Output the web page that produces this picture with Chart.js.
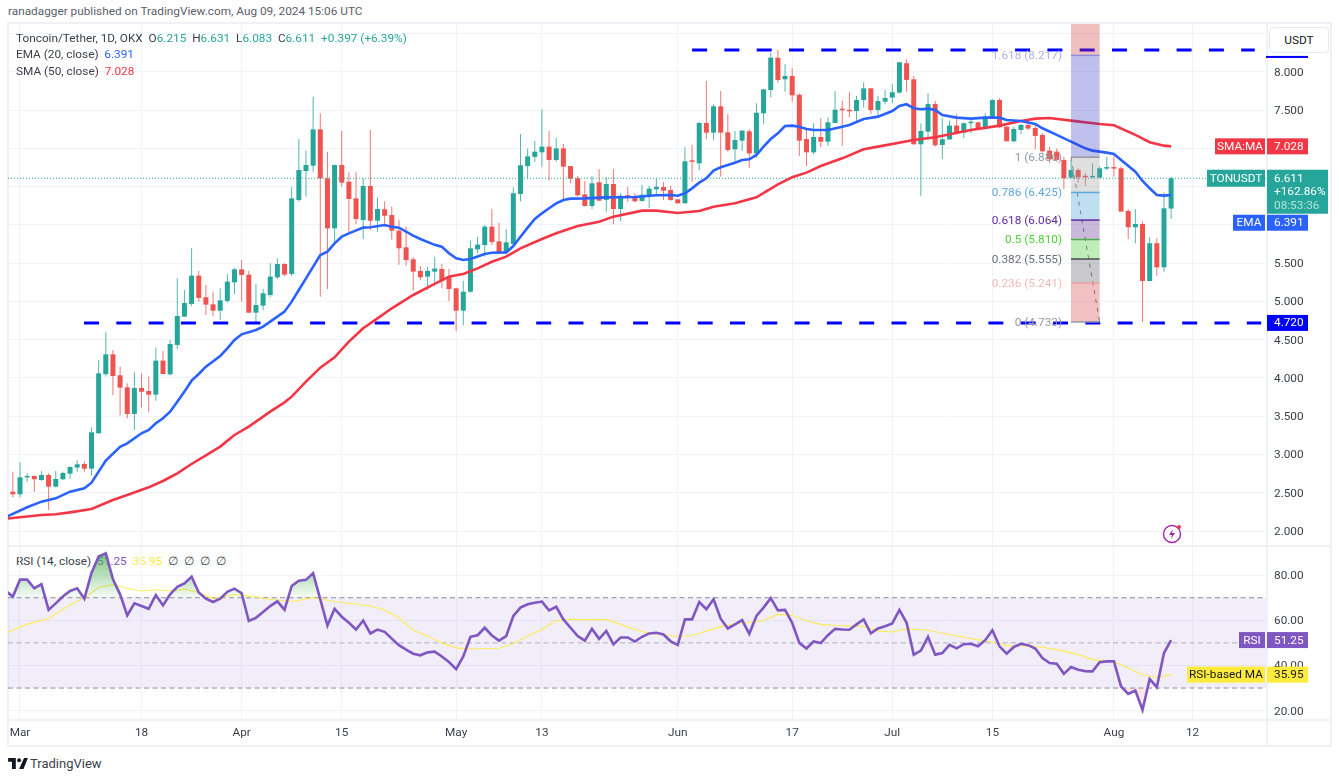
<!DOCTYPE html>
<html>
<head>
<meta charset="utf-8">
<title>TONUSDT</title>
<script src="https://cdn.jsdelivr.net/npm/chart.js@4"></script>
<style>
    body { margin: 0; background: #fff; font-family: Roboto, sans-serif; font-size: 11.8px; color: #131722; }
    #page { position: relative; width: 1339px; height: 777px; overflow: hidden; }
    #page > * { position: absolute; }
    .rule { background: #eff1f6; }
    .row { left: 16px; white-space: pre; color: #3c3f4a; line-height: 14px; z-index: 3; }
    .up { color: #26a69a; }
    canvas { z-index: 2; }
</style>
</head>
<body>
<div id="page">
    <div style="left:8px;top:4px;color:#5d606b;">ranadagger published on TradingView.com, Aug 09, 2024 15:06 UTC</div>

    <div class="rule" style="left:7px;top:22px;width:1325px;height:2px;"></div>
    <div class="rule" style="left:7px;top:22px;width:2px;height:725px;"></div>
    <div class="rule" style="left:1330px;top:22px;width:2px;height:725px;"></div>
    <div class="rule" style="left:7px;top:745px;width:1325px;height:2px;"></div>
    <div class="rule" style="left:7px;top:545px;width:1325px;height:2px;"></div>
    <div class="rule" style="left:7px;top:719px;width:1325px;height:2px;"></div>
    <div class="rule" style="left:1266px;top:22px;width:2px;height:725px;"></div>

    <canvas id="priceChart" width="1323" height="522" style="left:8px;top:24px;"></canvas>
    <canvas id="rsiChart" width="1323" height="200" style="left:8px;top:546px;"></canvas>

    <div class="row" style="top:31px;">Toncoin/Tether, 1D, OKX  O<span class="up">6.215</span>  H<span class="up">6.631</span>  L<span class="up">6.083</span>  C<span class="up">6.611</span>  <span class="up">+0.397 (+6.39%)</span></div>
    <div class="row" style="top:47px;">EMA (20, close)  <span style="color:#2962ff">6.391</span></div>
    <div class="row" style="top:64px;">SMA (50, close)  <span style="color:#f23645">7.028</span></div>
    <div class="row" style="top:554px;z-index:1;">RSI (14, close)  <span style="color:#7e57c2">51.25</span>  <span style="color:#ffeb3b">35.95</span>  ∅  ∅  ∅  ∅</div>

    <div style="left:1269px;top:27px;width:58px;height:24px;line-height:24px;text-align:center;border:1px solid #e6e8ef;border-radius:4px;background:#fff;z-index:4;">USDT</div>

    <svg style="left:1162px;top:524px;z-index:3;" width="22" height="20" viewBox="0 0 22 20">
        <circle cx="10" cy="10" r="8.5" fill="none" stroke="#9c27b0" stroke-width="1.4"/>
        <path d="M11 5 L7 11 L10 11 L9 15 L13 9 L10 9 Z" fill="#9c27b0"/>
        <circle cx="17" cy="3" r="2" fill="#f23645"/>
    </svg>

    <svg style="left:8px;top:758px;" width="20" height="11" viewBox="0 0 36 20">
        <path d="M0 0 H14 V20 H7 V7 H0 Z M29 0 H36 L28 20 H20 Z" fill="#131722"/>
        <circle cx="20" cy="4" r="3.6" fill="#131722"/>
    </svg>
    <div style="left:30px;top:756px;font-size:13px;color:#3c3f4a;">TradingView</div>
</div>

<script>
// first candle is Feb 29, x axis counts days from Mar 1
const firstDay = -1;

const opens = [
    2.514, 2.48, 2.7, 2.72, 2.667, 2.732, 2.58, 2.676, 2.75, 2.83,
    2.876, 2.815, 3.277, 4.05, 4.31, 4.035, 3.878, 3.53, 3.87, 3.83,
    3.782, 4.227, 4.048, 4.432, 4.802, 4.968, 5.338, 5.055, 4.963, 4.88,
    5.007, 5.25, 5.42, 5.35, 4.854, 4.946, 5.085, 5.316, 5.49, 5.36,
    6.327, 6.705, 6.775, 7.25, 6.61, 5.956, 6.784, 6.566, 6.348, 6.065,
    6.51, 6.056, 6.205, 6.13, 5.926, 5.708, 5.551, 5.4, 5.325, 5.39,
    5.425, 5.316, 5.172, 4.88, 5.128, 5.682, 5.738, 5.978, 5.786, 5.647,
    5.751, 6.405, 6.77, 6.89, 6.95, 7.024, 6.85, 7.002, 6.77, 6.61,
    6.4, 6.248, 6.558, 6.327, 6.536, 6.209, 6.385, 6.379, 6.314, 6.388,
    6.466, 6.496, 6.457, 6.335, 6.283, 6.84, 6.806, 7.333, 7.207, 7.551,
    7.211, 6.989, 7.102, 7.224, 6.936, 7.46, 7.764, 8.187, 7.904, 7.947,
    7.703, 7.124, 6.95, 7.15, 7.089, 7.333, 7.512, 7.503, 7.49, 7.634,
    7.786, 7.503, 7.612, 7.665, 7.73, 8.114, 7.904, 7.055, 7.22, 7.582,
    7.046, 7.12, 7.299, 7.207, 7.33, 7.342, 7.264, 7.394, 7.634, 7.286,
    7.094, 7.242, 7.307, 7.268, 7.177, 6.972, 6.959, 6.85, 6.619, 6.719,
    6.641, 6.623, 6.619, 6.737, 6.754, 6.741, 6.183, 5.97, 6.013, 5.268,
    5.761, 5.447, 6.215
];
const highs = [
    2.776, 2.898, 2.754, 2.72, 2.785, 2.754, 2.785, 2.776, 2.845, 2.924,
    2.907, 3.355, 4.235, 4.597, 4.366, 4.148, 3.93, 4.074, 4.06, 4.018,
    4.4, 4.353, 4.497, 5.303, 5.15, 5.695, 5.4, 5.216, 5.129, 5.172,
    5.36, 5.44, 5.542, 5.4, 5.229, 5.164, 5.5, 5.564, 5.5, 6.5,
    7.12, 6.972, 7.677, 7.46, 6.958, 6.79, 7.229, 6.69, 6.69, 6.61,
    7.24, 6.36, 6.309, 6.24, 6.065, 5.98, 5.58, 5.464, 5.455, 5.586,
    5.49, 5.425, 5.18, 5.272, 5.795, 5.847, 6.0, 6.209, 6.03, 5.943,
    6.492, 7.19, 7.0, 7.102, 7.512, 7.228, 7.137, 7.06, 6.77, 6.64,
    6.575, 6.64, 6.727, 6.623, 6.727, 6.414, 6.5, 6.414, 6.522, 6.51,
    6.61, 6.558, 6.514, 6.335, 7.015, 7.045, 7.35, 7.882, 7.577, 7.751,
    7.451, 7.228, 7.242, 7.25, 7.59, 7.773, 8.252, 8.287, 8.1, 8.048,
    7.72, 7.25, 7.329, 7.394, 7.407, 7.751, 7.625, 7.743, 7.686, 7.865,
    7.786, 7.686, 7.764, 7.843, 8.13, 8.166, 7.952, 7.33, 7.721, 7.621,
    7.395, 7.364, 7.447, 7.34, 7.395, 7.35, 7.46, 7.643, 7.656, 7.286,
    7.286, 7.32, 7.373, 7.33, 7.2, 7.024, 7.0, 6.893, 6.85, 6.741,
    6.676, 6.806, 6.763, 6.893, 6.893, 6.763, 6.209, 6.209, 6.044, 5.839,
    5.826, 6.423, 6.631
];
const lows = [
    2.44, 2.44, 2.645, 2.514, 2.658, 2.275, 2.57, 2.667, 2.68, 2.776,
    2.776, 2.724, 3.277, 4.018, 3.778, 3.512, 3.473, 3.32, 3.617, 3.551,
    3.704, 4.048, 4.035, 4.379, 4.802, 4.941, 4.998, 4.824, 4.81, 4.758,
    4.985, 5.098, 4.998, 4.85, 4.724, 4.889, 5.055, 5.294, 5.33, 5.33,
    6.305, 6.37, 6.697, 5.063, 5.164, 5.74, 6.5, 5.91, 6.013, 5.812,
    5.935, 5.913, 5.98, 5.81, 5.48, 5.468, 5.142, 5.281, 5.15, 5.216,
    5.172, 5.006, 4.614, 4.688, 5.115, 5.63, 5.586, 5.738, 5.63, 5.62,
    5.725, 6.31, 6.61, 6.828, 6.762, 6.58, 6.828, 6.335, 6.544, 6.37,
    6.24, 6.21, 6.318, 6.17, 6.008, 6.052, 6.296, 6.296, 6.305, 6.218,
    6.405, 6.327, 6.318, 6.283, 6.283, 6.566, 6.72, 7.12, 7.11, 6.632,
    6.958, 6.828, 6.971, 6.749, 6.88, 7.316, 7.669, 7.865, 7.742, 7.612,
    6.902, 6.77, 6.923, 7.015, 7.037, 7.329, 7.037, 7.407, 7.364, 7.533,
    7.451, 7.438, 7.577, 7.591, 7.72, 7.743, 7.046, 6.379, 7.11, 7.024,
    6.863, 7.11, 7.198, 7.133, 7.198, 7.24, 7.25, 7.386, 7.264, 7.09,
    7.08, 7.19, 7.242, 6.989, 6.946, 6.815, 6.828, 6.467, 6.61, 6.554,
    6.514, 6.61, 6.61, 6.719, 6.632, 6.175, 5.817, 5.761, 4.733, 5.26,
    5.338, 5.39, 6.083
];
const closes = [
    2.48, 2.702, 2.71, 2.676, 2.732, 2.58, 2.68, 2.758, 2.837, 2.872,
    2.815, 3.29, 4.06, 4.31, 4.026, 3.874, 3.53, 3.87, 3.82, 3.782,
    4.227, 4.052, 4.445, 4.811, 4.98, 5.338, 5.046, 4.959, 4.88, 5.015,
    5.26, 5.42, 5.347, 4.854, 4.954, 5.107, 5.325, 5.49, 5.351, 6.348,
    6.719, 6.784, 7.25, 6.61, 5.956, 6.784, 6.553, 6.34, 6.078, 6.51,
    6.056, 6.209, 6.12, 5.926, 5.695, 5.542, 5.39, 5.316, 5.4, 5.43,
    5.272, 5.163, 4.88, 5.128, 5.695, 5.743, 5.978, 5.777, 5.647, 5.773,
    6.414, 6.78, 6.897, 6.958, 7.024, 6.85, 7.002, 6.762, 6.605, 6.388,
    6.248, 6.544, 6.318, 6.536, 6.209, 6.383, 6.37, 6.309, 6.396, 6.475,
    6.5, 6.448, 6.327, 6.283, 6.832, 6.825, 7.333, 7.207, 7.551, 7.207,
    6.98, 7.111, 7.233, 6.936, 7.468, 7.773, 8.187, 7.895, 7.947, 7.695,
    7.102, 6.95, 7.15, 7.089, 7.342, 7.507, 7.5, 7.486, 7.634, 7.786,
    7.503, 7.621, 7.66, 7.735, 8.127, 7.896, 7.055, 7.229, 7.582, 7.042,
    7.12, 7.299, 7.207, 7.33, 7.35, 7.264, 7.416, 7.634, 7.277, 7.094,
    7.255, 7.307, 7.26, 7.164, 6.963, 6.859, 6.85, 6.61, 6.719, 6.623,
    6.623, 6.632, 6.741, 6.754, 6.737, 6.175, 5.97, 6.013, 5.268, 5.761,
    5.447, 6.218, 6.611
];

const emaDays = [-2, 1, 3, 5, 7, 9, 10, 12, 14, 15, 17, 18, 19, 20, 21, 22, 23, 24, 25, 26, 28, 29, 30, 31, 33, 34, 35, 37, 38, 39, 40, 42, 43, 44, 45, 46, 48, 49, 51, 52, 53, 55, 56, 58, 59, 60, 61, 62, 63, 65, 66, 68, 69, 70, 71, 72, 73, 74, 75, 76, 77, 79, 82, 86, 89, 91, 92, 93, 94, 95, 96, 97, 98, 99, 100, 101, 102, 103, 104, 105, 106, 107, 108, 109, 110, 111, 113, 115, 116, 118, 120, 122, 123, 124, 125, 126, 127, 128, 129, 131, 133, 135, 137, 138, 140, 142, 143, 145, 147, 149, 150, 152, 153, 154, 156, 157, 158, 159, 160, 161];
const emaValues = [2.18, 2.31, 2.384, 2.427, 2.514, 2.558, 2.632, 2.92, 3.1, 3.146, 3.277, 3.32, 3.408, 3.473, 3.56, 3.691, 3.822, 3.965, 4.052, 4.148, 4.288, 4.388, 4.497, 4.571, 4.628, 4.671, 4.737, 4.867, 4.998, 5.15, 5.303, 5.608, 5.651, 5.76, 5.847, 5.891, 5.965, 5.97, 6.0, 5.978, 5.965, 5.86, 5.817, 5.74, 5.716, 5.63, 5.564, 5.542, 5.555, 5.62, 5.638, 5.642, 5.725, 5.847, 5.965, 6.078, 6.152, 6.218, 6.283, 6.326, 6.344, 6.348, 6.361, 6.366, 6.388, 6.392, 6.383, 6.414, 6.479, 6.553, 6.61, 6.71, 6.754, 6.784, 6.814, 6.849, 6.858, 6.915, 7.024, 7.124, 7.198, 7.294, 7.298, 7.285, 7.255, 7.242, 7.242, 7.285, 7.307, 7.385, 7.416, 7.49, 7.556, 7.578, 7.525, 7.512, 7.521, 7.504, 7.438, 7.403, 7.39, 7.403, 7.403, 7.373, 7.36, 7.32, 7.264, 7.177, 7.09, 7.002, 6.972, 6.946, 6.928, 6.85, 6.697, 6.575, 6.48, 6.392, 6.384, 6.391];

const smaDays = [-2, 3, 5, 7, 10, 13, 15, 18, 20, 22, 24, 26, 28, 30, 32, 35, 37, 38, 40, 42, 44, 46, 48, 50, 52, 55, 58, 60, 61, 62, 64, 66, 68, 70, 73, 75, 78, 81, 83, 87, 89, 92, 95, 97, 100, 103, 106, 108, 110, 112, 115, 118, 120, 125, 128, 133, 137, 140, 142, 144, 147, 151, 153, 156, 158, 160, 161];
const smaValues = [2.16, 2.21, 2.218, 2.244, 2.288, 2.405, 2.471, 2.571, 2.654, 2.754, 2.876, 2.989, 3.103, 3.255, 3.364, 3.56, 3.682, 3.756, 3.952, 4.135, 4.27, 4.475, 4.65, 4.78, 4.911, 5.085, 5.229, 5.325, 5.342, 5.359, 5.433, 5.52, 5.586, 5.695, 5.817, 5.891, 5.987, 6.043, 6.109, 6.187, 6.187, 6.156, 6.183, 6.239, 6.283, 6.361, 6.531, 6.623, 6.684, 6.771, 6.871, 6.989, 7.024, 7.111, 7.146, 7.242, 7.299, 7.36, 7.39, 7.399, 7.364, 7.32, 7.303, 7.177, 7.081, 7.037, 7.028];

const rsiStartDay = -2;
const rsiValues = [
    73, 70.5, 78, 78, 74.2, 76, 64.6, 67.5, 70.5, 73,
    74.2, 69.6, 81, 88.3, 89.7, 78.2, 71.5, 62.2, 67.5, 66.3,
    65.1, 71.2, 66.6, 71.5, 74.8, 76.3, 79.3, 72.3, 69.6, 68.1,
    69.6, 72.6, 74, 72, 59.7, 61.1, 63.7, 66.3, 68.4, 64.6,
    75.2, 77.5, 77.9, 80.9, 69.3, 57.7, 65.1, 61.6, 58.9, 55.9,
    59.9, 54.2, 55.9, 54.9, 51.9, 49, 47, 45.2, 44.5, 45.8,
    46.1, 44, 41.5, 38.4, 44, 52.7, 53.4, 56.7, 53.3, 51,
    53, 61.9, 65.6, 67.1, 67.8, 68.3, 64.4, 66, 60.4, 56.7,
    53, 51, 56.2, 51.8, 55.3, 49.3, 52.4, 52.4, 50.6, 52.7,
    54.2, 54.5, 53.7, 50.7, 49.1, 60.4, 60.4, 68.1, 64.9, 69.3,
    60.7, 56.4, 58.2, 60.1, 54, 61.9, 65.6, 69.8, 64.4, 64.6,
    58.9, 50, 47.5, 50.6, 49.9, 53.4, 56.2, 55.9, 55.8, 58.2,
    60.4, 54.2, 56.4, 57.4, 58.6, 64.6, 58.9, 44.8, 46.6, 52.7,
    44.8, 45.5, 49.1, 47.6, 49.4, 49.6, 48.5, 51.2, 55.6, 48.5,
    45.2, 48.2, 49.6, 49, 47.5, 43.3, 41.1, 40.8, 36.3, 39.3,
    38.1, 37.5, 37.4, 41.4, 41.8, 41.8, 30.7, 27.4, 28.9, 20.3,
    34, 30.4, 45.5, 51.25
];
const rsiMaDays = [-2, 0, 2, 4, 6, 8, 9, 11, 13, 15, 17, 19, 21, 23, 25, 27, 30, 32, 35, 38, 41, 44, 47, 49, 51, 53, 55, 57, 59, 61, 63, 67, 69, 71, 73, 75, 77, 79, 82, 84, 86, 88, 90, 92, 94, 96, 98, 100, 102, 104, 106, 108, 110, 112, 114, 118, 120, 122, 124, 127, 130, 133, 136, 138, 142, 145, 148, 150, 153, 155, 157, 159, 161];
const rsiMaValues = [54.2, 57.1, 59.2, 60.7, 64.9, 68.4, 70, 74.5, 75.8, 74.1, 73, 73.5, 73, 73.8, 72.3, 69.6, 71.4, 70.8, 69.3, 68.3, 70, 68.3, 67.1, 66.3, 64.6, 61.1, 55.6, 53, 50, 47.8, 47.3, 47.6, 49.7, 53, 55.9, 59.9, 60.4, 60.2, 60.4, 58.2, 55.9, 54.2, 53.7, 52.7, 53.3, 55.2, 57.1, 58.6, 58.9, 59.9, 62.6, 62.2, 59.7, 58.2, 57.7, 57.3, 55.2, 54.8, 56.2, 55.6, 53.7, 51.9, 50.4, 48.8, 48.5, 47, 44.8, 42.6, 41.7, 38.9, 35.9, 34.7, 35.95];

const timeTicks = [0, 17, 31, 45, 61, 73, 92, 108, 122, 136, 153, 164];
const timeLabels = ['Mar', '18', 'Apr', '15', 'May', '13', 'Jun', '17', 'Jul', '15', 'Aug', '12'];
const priceTicks = [2, 2.5, 3, 3.5, 4, 4.5, 5, 5.5, 6, 6.5, 7, 7.5, 8, 8.5];
const rsiTicks = [20, 40, 60, 80];
const rsiBands = [70, 50, 30];

const fibDays = [147, 151];
const fibRatios = ['0', '0.236', '0.382', '0.5', '0.618', '0.786', '1', '1.618'];
const fibPrices = [4.733, 5.241, 5.555, 5.81, 6.064, 6.425, 6.886, 8.217];
const fibFills = ['rgba(208,45,45,.3)', 'rgba(75,75,85,.3)', 'rgba(45,192,23,.3)', 'rgba(75,28,138,.3)', 'rgba(42,148,205,.3)', 'rgba(150,150,150,.3)', 'rgba(45,45,192,.3)', 'rgba(205,45,45,.3)'];
const fibLines = ['#9598a1', '#f0a0a0', '#4a4a50', '#4caf50', '#5e2a9e', '#5fa8d8', '#9598a1', '#8c8ce0'];
const fibText = ['#9598a1', '#f2b8b8', '#6a6d78', '#4cd137', '#5e2a9e', '#5fa8d8', '#9598a1', '#b0b0ea'];
const trendDays = [147, 151];
const trendPrices = [6.886, 4.733];

const resistanceDays = [94, 172.7];
const resistancePrice = 8.288;
const supportDays = [8.95, 173.6];
const supportPrice = 4.72;
const lastPrice = 6.611;

const xMin = -1.678;
const xMax = 174.27;
const upColor = '#26a69a';
const downColor = '#ef5350';
const upWick = 'rgba(38,166,154,.8)';
const downWick = 'rgba(239,83,80,.8)';
const axisFont = { family: 'Roboto', size: 11.8 };

const pairs = (days, values) => days.map((d, i) => ({ x: d, y: values[i] }));
const flat = (days, value) => days.map(d => ({ x: d, y: value }));
const candleColors = closes.map((c, i) => (c >= opens[i] ? upColor : downColor));
const wickColors = closes.map((c, i) => (c >= opens[i] ? upWick : downWick));

// chart.js reserves room for half of the first and last labels, the panes here must fill the canvas
function noPadding(scale) {
    scale.paddingTop = 0;
    scale.paddingBottom = 0;
    scale.paddingLeft = 0;
    scale.paddingRight = 0;
}
const axisWidth = scale => { scale.width = 65; noPadding(scale); };

function tag(ctx, y, label, labelLeft, value, right, color, textColor) {
    const axisLeft = 1258;
    const h = 16;
    ctx.fillStyle = color;
    if (label) {
        ctx.fillRect(labelLeft, y - h / 2, axisLeft - 1 - labelLeft, h);
    }
    ctx.fillRect(axisLeft + 1, y - h / 2, right - axisLeft - 1, h);
    ctx.fillStyle = textColor;
    ctx.font = '11.8px Roboto';
    ctx.textBaseline = 'middle';
    ctx.textAlign = 'center';
    if (label) {
        ctx.fillText(label, (labelLeft + axisLeft - 1) / 2, y + 0.5);
    }
    ctx.textAlign = 'left';
    ctx.fillText(value, axisLeft + 8, y + 0.5);
}

// fib box sits over the candles and lines, tags sit over the axis labels
const fibPlugin = {
    id: 'fib',
    afterDatasetsDraw(chart) {
        const { ctx, scales: { x, y }, chartArea } = chart;
        const left = x.getPixelForValue(fibDays[0]);
        const right = x.getPixelForValue(fibDays[1]);
        ctx.save();
        fibPrices.forEach((price, i) => {
            const y0 = y.getPixelForValue(price);
            const y1 = i + 1 < fibPrices.length ? y.getPixelForValue(fibPrices[i + 1]) : chartArea.top;
            ctx.fillStyle = fibFills[i];
            ctx.fillRect(left, y1, right - left, y0 - y1);
            ctx.fillStyle = fibLines[i];
            ctx.fillRect(left, y0 - 0.75, right - left, 1.5);
            ctx.fillStyle = fibText[i];
            ctx.font = '11.8px Roboto';
            ctx.textAlign = 'right';
            ctx.textBaseline = 'middle';
            ctx.fillText(`${fibRatios[i]} (${price.toFixed(3)})`, left - 9, y0 + 1);
        });
        ctx.restore();
    },
    afterDraw(chart) {
        const { ctx, scales: { y } } = chart;
        const py = y.getPixelForValue(lastPrice);
        ctx.save();
        // the 8.288 tag is hidden by the USDT button, only its lower edge shows
        ctx.fillStyle = '#0000ff';
        ctx.fillRect(1258, y.getPixelForValue(resistancePrice) + 6, 42, 2);
        tag(ctx, y.getPixelForValue(7.028), 'SMA:MA', 1207, '7.028', 1300, '#f23645', '#fff');
        tag(ctx, y.getPixelForValue(supportPrice), '', 0, '4.720', 1300, '#0000ff', '#fff');
        // last price tag is the tall one with change and countdown, the EMA tag gets pushed below it
        ctx.fillStyle = upColor;
        ctx.fillRect(1199, py - 8.5, 58, 17);
        ctx.fillRect(1259, py - 8.5, 61, 44);
        ctx.fillStyle = '#fff';
        ctx.font = '11.8px Roboto';
        ctx.textBaseline = 'middle';
        ctx.textAlign = 'center';
        ctx.fillText('TONUSDT', 1228, py + 0.5);
        ctx.textAlign = 'left';
        ctx.fillText('6.611', 1266, py + 0.5);
        ctx.fillText('+162.86%', 1266, py + 14);
        ctx.fillStyle = 'rgba(255,255,255,.65)';
        ctx.fillText('08:53:36', 1266, py + 27.5);
        tag(ctx, py + 44.5, 'EMA', 1225, '6.391', 1300, '#2962ff', '#fff');
        ctx.restore();
    }
};

new Chart(document.getElementById('priceChart'), {
    type: 'bar',
    plugins: [fibPlugin],
    data: {
        datasets: [
            { type: 'line', data: pairs(emaDays, emaValues), borderColor: '#2962ff', borderWidth: 2.6, pointRadius: 0, tension: 0, order: 1 },
            { type: 'line', data: pairs(smaDays, smaValues), borderColor: '#f23645', borderWidth: 2.6, pointRadius: 0, tension: 0, order: 2 },
            { type: 'line', data: flat(resistanceDays, resistancePrice), borderColor: '#0000ff', borderWidth: 3, borderDash: [15, 17.3], pointRadius: 0, order: 3 },
            { type: 'line', data: flat(supportDays, supportPrice), borderColor: '#0000ff', borderWidth: 3, borderDash: [15, 17.3], pointRadius: 0, order: 3 },
            { type: 'line', data: pairs(trendDays, trendPrices), borderColor: '#787b86', borderWidth: 1, borderDash: [4, 5], pointRadius: 0, order: 4 },
            { type: 'line', data: flat([xMin, xMax], lastPrice), borderColor: upColor, borderWidth: 1, borderDash: [1, 2], pointRadius: 0, order: 5 },
            { data: opens.map((o, i) => ({ x: firstDay + i, y: [o, closes[i]] })), backgroundColor: candleColors, grouped: false, maxBarThickness: 5, minBarLength: 1.5, order: 6 },
            { data: lows.map((l, i) => ({ x: firstDay + i, y: [l, highs[i]] })), backgroundColor: wickColors, grouped: false, maxBarThickness: 1, order: 7 }
        ]
    },
    options: {
        responsive: false,
        animation: false,
        devicePixelRatio: 1,
        layout: { padding: 0 },
        plugins: { legend: { display: false }, tooltip: { enabled: false } },
        scales: {
            x: {
                type: 'linear',
                min: xMin,
                max: xMax,
                offset: false,
                afterBuildTicks: scale => { scale.ticks = timeTicks.map(v => ({ value: v })); },
                afterFit: scale => { scale.height = 0; noPadding(scale); },
                ticks: { display: false },
                border: { display: false },
                grid: { color: '#f0f3fa', drawTicks: false, offset: false }
            },
            y: {
                position: 'right',
                min: 1.804,
                max: 8.627,
                afterBuildTicks: scale => { scale.ticks = priceTicks.map(v => ({ value: v })); },
                afterFit: axisWidth,
                ticks: { padding: 8, labelOffset: 1, color: '#3c3f4a', font: axisFont, callback: v => v.toFixed(3) },
                border: { display: false },
                grid: { color: '#f0f3fa', drawTicks: false }
            }
        }
    }
});

const rsiPoints = rsiValues.map((v, i) => ({ x: rsiStartDay + i, y: v }));
const rsiCanvas = document.getElementById('rsiChart');
const greenFade = rsiCanvas.getContext('2d').createLinearGradient(0, 6, 0, 52);
greenFade.addColorStop(0, 'rgba(76,175,80,.75)');
greenFade.addColorStop(1, 'rgba(76,175,80,.04)');

const rsiTagPlugin = {
    id: 'rsiTags',
    afterDraw(chart) {
        const { ctx, scales: { y } } = chart;
        ctx.save();
        tag(ctx, y.getPixelForValue(51.25), 'RSI', 1231, '51.25', 1300, '#7e57c2', '#fff');
        tag(ctx, y.getPixelForValue(35.95), 'RSI-based MA', 1179, '35.95', 1300, '#ffeb3b', '#131722');
        ctx.restore();
    }
};

new Chart(rsiCanvas, {
    type: 'line',
    plugins: [rsiTagPlugin],
    data: {
        datasets: [
            { data: rsiPoints, borderColor: '#7e57c2', borderWidth: 2.6, pointRadius: 0, tension: 0, order: 1, fill: { target: { value: 70 }, above: greenFade, below: 'transparent' } },
            { data: rsiPoints, borderColor: 'transparent', borderWidth: 0, pointRadius: 0, tension: 0, order: 2, fill: { target: { value: 30 }, above: 'transparent', below: 'rgba(242,54,69,.12)' } },
            { data: pairs(rsiMaDays, rsiMaValues), borderColor: 'rgba(255,235,59,.85)', borderWidth: 1.1, pointRadius: 0, tension: 0, order: 3 },
            { data: flat([xMin, xMax], rsiBands[0]), borderColor: 'rgba(120,123,134,.85)', borderWidth: 1, borderDash: [5, 3.5], pointRadius: 0, order: 4, fill: { target: { value: rsiBands[2] }, above: 'rgba(126,87,194,.1)', below: 'transparent' } },
            { data: flat([xMin, xMax], rsiBands[1]), borderColor: 'rgba(120,123,134,.55)', borderWidth: 1, borderDash: [5, 3.5], pointRadius: 0, order: 4 },
            { data: flat([xMin, xMax], rsiBands[2]), borderColor: 'rgba(120,123,134,.85)', borderWidth: 1, borderDash: [5, 3.5], pointRadius: 0, order: 4 }
        ]
    },
    options: {
        responsive: false,
        animation: false,
        devicePixelRatio: 1,
        layout: { padding: 0 },
        plugins: { legend: { display: false }, tooltip: { enabled: false } },
        scales: {
            x: {
                type: 'linear',
                min: xMin,
                max: xMax,
                offset: false,
                afterBuildTicks: scale => { scale.ticks = timeTicks.map(v => ({ value: v })); },
                afterFit: scale => { scale.height = 27; noPadding(scale); },
                ticks: {
                    autoSkip: false,
                    maxRotation: 0,
                    padding: 7,
                    color: '#3c3f4a',
                    font: axisFont,
                    callback: (v, i) => timeLabels[i]
                },
                border: { display: false },
                grid: { color: '#f0f3fa', drawTicks: false, offset: false }
            },
            y: {
                position: 'right',
                min: 16.3,
                max: 92.9,
                afterBuildTicks: scale => { scale.ticks = rsiTicks.map(v => ({ value: v })); },
                afterFit: axisWidth,
                ticks: { padding: 8, labelOffset: 1, color: '#3c3f4a', font: axisFont, callback: v => v.toFixed(2) },
                border: { display: false },
                grid: { color: '#f0f3fa', drawTicks: false }
            }
        }
    }
});
</script>
</body>
</html>
